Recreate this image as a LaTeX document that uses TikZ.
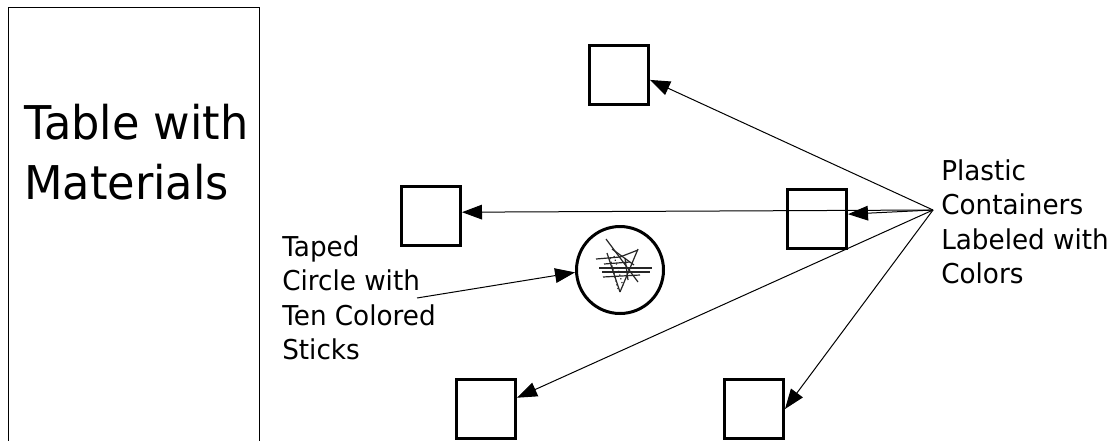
\documentclass[tikz,border=0pt]{standalone}
\usepackage{fontspec}
\setmainfont{DejaVu Sans}[FakeStretch=0.96]
\usetikzlibrary{arrows.meta}
\begin{document}
\begin{tikzpicture}[x=0.75pt,y=-0.75pt,
  cbox/.style={draw, line width=2.25pt, minimum size=44.25pt, inner sep=0pt},
  conn/.style={line width=0.75pt, -{Triangle[length=15pt,width=11pt]}},
  bigtext/.style={font=\fontsize{34.9}{44.6}\selectfont, align=left, inner sep=0pt, anchor=north west},
  smalltext/.style={font=\fontsize{20.5}{25.9}\selectfont, align=left, inner sep=0pt, anchor=north west},
  stick/.style={line width=0.9pt, black!85}]
\useasboundingbox (0,0) rectangle (1108,440);
\fill[white] (0,0) rectangle (1108,440);
% table
\draw[line width=0.75pt] (8,460) -- (8,7) -- (259,7) -- (259,460);
\node[bigtext] (tabletext) at (24,104) {Table with\\Materials};
% containers
\node[cbox] (boxT) at (619,75) {};
\node[cbox] (boxL) at (431,216) {};
\node[cbox] (boxR) at (817,218.5) {};
\node[cbox] (boxBL) at (486,409) {};
\node[cbox] (boxBR) at (754,409) {};
% taped circle
\node[draw, circle, line width=2.25pt, minimum size=65.25pt, inner sep=0pt] (circ) at (620,270) {};
\draw[stick] (606,239) -- (638,282);
\draw[stick] (596,259) -- (620,257) -- (638,250);
\draw[stick] (599,268) -- (652,268);
\draw[stick] (602,272) -- (650,272);
\draw[stick] (603,277) -- (640,275);
\draw[stick] (607,253) -- (620,292);
\draw[stick] (638,249) -- (620,292);
\draw[stick, dotted] (610,258) -- (618,289);
\draw[stick] (612,249) -- (634,265);
\draw[stick] (604,264) -- (630,262);
\draw[stick, dotted] (614,256) -- (623,286);
\draw[stick] (625,258) -- (628,280);
% labels
\node[smalltext] (taped) at (282,235) {Taped\\Circle with\\Ten Colored\\Sticks};
\node[smalltext] (plastic) at (941,159) {Plastic\\Containers\\Labeled with\\Colors};
% connectors
\coordinate (hub) at (933,210);
\coordinate (tapedend) at (417,298);
\draw[conn] (hub) -- (boxT.-9);
\draw[conn] (hub) -- (boxL.7);
\draw[conn] (hub) -- (boxR.8);
\draw[conn] (hub) -- (boxBL.20);
\draw[conn] (hub) -- (boxBR.east);
\draw[conn] (tapedend) -- (circ.183);
\end{tikzpicture}
\end{document}
